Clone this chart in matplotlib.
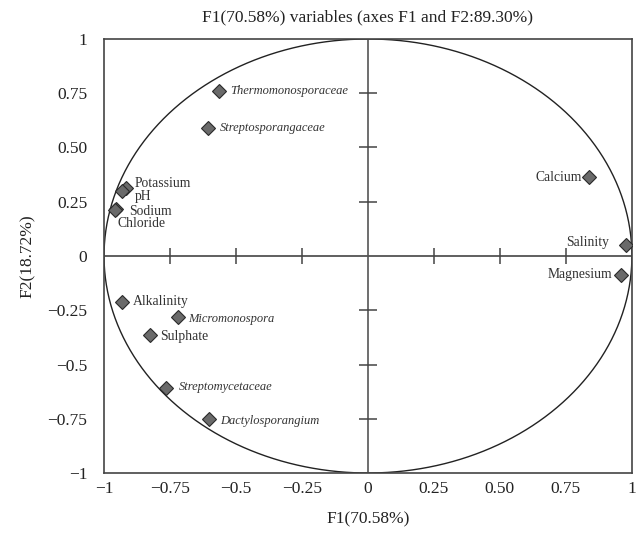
import numpy as np
import matplotlib.pyplot as plt

plt.rcParams['font.family'] = ['Liberation Serif', 'DejaVu Serif']

# PCA correlation circle: variables on F1/F2
names = ['Thermomonosporaceae', 'Streptosporangaceae', 'Potassium', 'pH',
         'Sodium', 'Chloride', 'Alkalinity', 'Micromonospora', 'Sulphate',
         'Streptomycetaceae', 'Dactylosporangium', 'Calcium', 'Salinity',
         'Magnesium']
f1 = [-0.564, -0.606, -0.917, -0.932, -0.955, -0.960, -0.932, -0.720,
      -0.826, -0.765, -0.602, 0.837, 0.977, 0.958]
f2 = [0.759, 0.589, 0.312, 0.299, 0.216, 0.210, -0.211, -0.280,
      -0.363, -0.607, -0.749, 0.363, 0.051, -0.087]
italic = [True, True, False, False, False, False, False, True, False,
          True, True, False, False, False]

# label offsets in pixels (dx, dy) and alignment
offsets = {
    'Thermomonosporaceae': (11, 0, 'left'),
    'Streptosporangaceae': (12, 0, 'left'),
    'Potassium': (9, 5, 'left'),
    'pH': (13, -5, 'left'),
    'Sodium': (13, -2, 'left'),
    'Chloride': (3, -13, 'left'),
    'Alkalinity': (11, 0, 'left'),
    'Micromonospora': (10, -2, 'left'),
    'Sulphate': (10, -2, 'left'),
    'Streptomycetaceae': (13, 1, 'left'),
    'Dactylosporangium': (11, -2, 'left'),
    'Calcium': (-7, 0, 'right'),
    'Salinity': (-17, 2, 'right'),
    'Magnesium': (-9, 0, 'right'),
}

ticks = [-1, -0.75, -0.5, -0.25, 0, 0.25, 0.5, 0.75, 1]
xtick_labels = ['\u22121', '\u22120.75', '\u22120.5', '\u22120.25', '0', '0.25', '0.50', '0.75', '1']
ytick_labels = ['\u22121', '\u22120.75', '\u22120.5', '\u22120.25', '0', '0.25', '0.50', '0.75', '1']

fig = plt.figure(figsize=(6.37, 5.34), dpi=100)
ax = fig.add_axes([0.1633, 0.1142, 0.8287, 0.8128])

# unit circle
t = np.linspace(0, 2 * np.pi, 400)
ax.plot(np.cos(t), np.sin(t), color='#222222', lw=1.0)

# centre axes with cross ticks
ax.axhline(0, color='#444444', lw=1.2)
ax.axvline(0, color='#555555', lw=1.2)
inner = [v for v in ticks if v not in (-1, 0, 1)]
ax.vlines(inner, -0.037, 0.037, color='#444444', lw=1.1)
ax.hlines(inner, -0.034, 0.034, color='#444444', lw=1.1)

ax.plot(f1, f2, linestyle='none', marker='D', ms=7, mfc='#6a6a6a',
        mec='#2a2a2a', mew=0.8, zorder=5)

for n, x, y, it in zip(names, f1, f2, italic):
    dx, dy, ha = offsets[n]
    ax.annotate(n, (x, y), xytext=(dx, dy), textcoords='offset pixels',
                ha=ha, va='center', fontsize=9 if it else 9.8,
                fontstyle='italic' if it else 'normal', color='#333333')

ax.set_xlim(-1, 1)
ax.set_ylim(-1, 1)
ax.set_xticks(ticks)
ax.set_xticklabels(xtick_labels)
ax.set_yticks(ticks)
ax.set_yticklabels(ytick_labels)
ax.tick_params(length=0, labelsize=12.5, colors='#222222')
ax.tick_params(axis='y', pad=12)
ax.tick_params(axis='x', pad=6)
for s in ax.spines.values():
    s.set_color('#444444')
    s.set_linewidth(1.2)

ax.set_title('F1(70.58%) variables (axes F1 and F2:89.30%)', fontsize=12.5,
             pad=13, color='#222222')
ax.set_xlabel('F1(70.58%)', fontsize=12.5, labelpad=10, color='#222222')
ax.set_ylabel('F2(18.72%)', fontsize=12.5, labelpad=8, color='#222222')

fig.savefig('out.png', dpi=100)
